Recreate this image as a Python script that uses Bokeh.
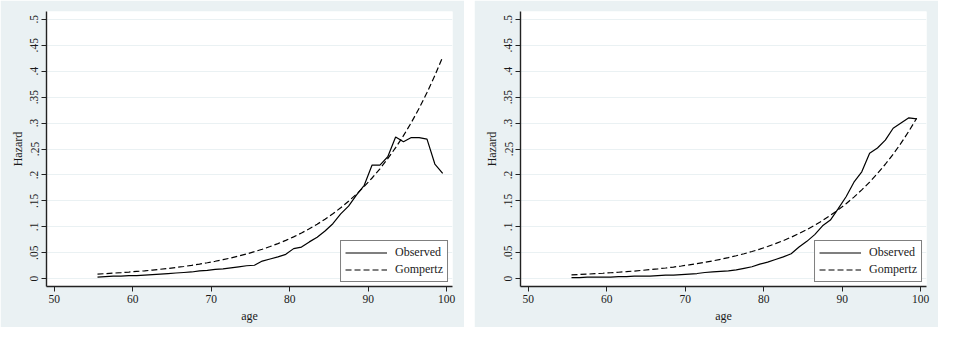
from bokeh.plotting import figure
from bokeh.layouts import row
from bokeh.models import FixedTicker, Legend, LegendItem
from bokeh.embed import file_html
from bokeh.resources import INLINE

# ---- data ----
ages = [55.5, 56.5, 57.5, 58.5, 59.5, 60.5, 61.5, 62.5, 63.5, 64.5,
        65.5, 66.5, 67.5, 68.5, 69.5, 70.5, 71.5, 72.5, 73.5, 74.5,
        75.5, 76.5, 77.5, 78.5, 79.5, 80.5, 81.5, 82.5, 83.5, 84.5,
        85.5, 86.5, 87.5, 88.5, 89.5, 90.5, 91.5, 92.5, 93.5, 94.5,
        95.5, 96.5, 97.5, 98.5, 99.5]

observed_left = [0.003, 0.004, 0.005, 0.005, 0.006, 0.006, 0.007, 0.008, 0.009, 0.010,
                 0.011, 0.012, 0.013, 0.015, 0.016, 0.018, 0.019, 0.021, 0.023, 0.025,
                 0.026, 0.034, 0.038, 0.042, 0.047, 0.058, 0.061, 0.071, 0.080, 0.092,
                 0.106, 0.125, 0.140, 0.161, 0.180, 0.219, 0.219, 0.235, 0.273, 0.264,
                 0.272, 0.272, 0.269, 0.221, 0.203]
gompertz_left = [0.0090, 0.0098, 0.0107, 0.0117, 0.0128, 0.0140, 0.0152, 0.0166, 0.0182, 0.0198,
                 0.0217, 0.0236, 0.0258, 0.0282, 0.0308, 0.0336, 0.0367, 0.0400, 0.0437, 0.0477,
                 0.0521, 0.0568, 0.0620, 0.0677, 0.0739, 0.0807, 0.0881, 0.0962, 0.1050, 0.1147,
                 0.1252, 0.1367, 0.1492, 0.1629, 0.1778, 0.1941, 0.2119, 0.2313, 0.2526, 0.2757,
                 0.3010, 0.3286, 0.3587, 0.3916, 0.4275]

observed_right = [0.002, 0.002, 0.003, 0.003, 0.003, 0.003, 0.004, 0.004, 0.005, 0.005,
                  0.005, 0.006, 0.007, 0.007, 0.008, 0.009, 0.010, 0.012, 0.013, 0.014,
                  0.015, 0.017, 0.020, 0.023, 0.028, 0.032, 0.037, 0.042, 0.048, 0.061,
                  0.072, 0.085, 0.102, 0.113, 0.135, 0.158, 0.186, 0.206, 0.242, 0.252,
                  0.267, 0.290, 0.300, 0.310, 0.308]
gompertz_right = [0.0075, 0.0082, 0.0089, 0.0097, 0.0105, 0.0115, 0.0125, 0.0136, 0.0148, 0.0161,
                  0.0175, 0.0190, 0.0207, 0.0225, 0.0245, 0.0267, 0.0290, 0.0316, 0.0344, 0.0374,
                  0.0407, 0.0443, 0.0482, 0.0524, 0.0570, 0.0621, 0.0676, 0.0735, 0.0800, 0.0871,
                  0.0947, 0.1031, 0.1122, 0.1221, 0.1328, 0.1445, 0.1573, 0.1712, 0.1863, 0.2027,
                  0.2206, 0.2400, 0.2612, 0.2843, 0.3093]

x_ticks = [50, 60, 70, 80, 90, 100]
y_ticks = [0, 0.05, 0.1, 0.15, 0.2, 0.25, 0.3, 0.35, 0.4, 0.45, 0.5]
y_tick_labels = ["0", ".05", ".1", ".15", ".2", ".25", ".3", ".35", ".4", ".45", ".5"]
series_names = ["Observed", "Gompertz"]

BG = "#EAF1F3"
FONT = "Liberation Serif"


def make_panel(obs, gomp):
    p = figure(width=464, height=327, output_backend="svg", toolbar_location=None,
               x_range=(49, 100.75), y_range=(-0.015, 0.515),
               min_border_left=46, min_border_right=12, min_border_top=11,
               min_border_bottom=41)
    p.background_fill_color = "white"
    p.border_fill_color = BG
    p.outline_line_color = None

    r1 = p.line(ages, obs, line_color="black", line_width=1.2)
    r2 = p.line(ages, gomp, line_color="black", line_width=1.2, line_dash="6 3")

    p.xgrid.grid_line_color = None
    p.ygrid.grid_line_color = BG
    p.ygrid.grid_line_width = 1.2

    p.xaxis.ticker = FixedTicker(ticks=x_ticks)
    p.yaxis.ticker = FixedTicker(ticks=y_ticks)
    p.yaxis.major_label_overrides = {t: l for t, l in zip(y_ticks, y_tick_labels)}
    p.yaxis.major_label_orientation = "parallel"

    for ax in (p.xaxis[0], p.yaxis[0]):
        ax.axis_line_color = "#222222"
        ax.axis_line_width = 1.4
        ax.major_tick_line_color = "#222222"
        ax.major_tick_in = 0
        ax.major_tick_out = 5
        ax.minor_tick_line_color = None
        ax.major_label_text_font = FONT
        ax.major_label_text_font_size = "11.5px"
        ax.major_label_text_color = "#1a1a1a"
        ax.axis_label_text_font = FONT
        ax.axis_label_text_font_size = "12px"
        ax.axis_label_text_font_style = "normal"
        ax.axis_label_text_color = "#1a1a1a"
        ax.major_label_standoff = 3
        ax.axis_label_standoff = 3
    p.xaxis.axis_label = "age"
    p.yaxis.axis_label = "Hazard"

    legend = Legend(items=[LegendItem(label=series_names[0], renderers=[r1]),
                           LegendItem(label=series_names[1], renderers=[r2])],
                    location="bottom_right")
    legend.label_text_font = FONT
    legend.label_text_font_size = "12px"
    legend.label_text_color = "#1a1a1a"
    legend.border_line_color = "black"
    legend.border_line_width = 1
    legend.background_fill_color = "white"
    legend.background_fill_alpha = 1
    legend.glyph_width = 42
    legend.glyph_height = 15
    legend.label_standoff = 8
    legend.padding = 4
    legend.spacing = 2
    legend.margin = 4
    legend.label_height = 15
    p.add_layout(legend)
    return p


p1 = make_panel(observed_left, gompertz_left)
p2 = make_panel(observed_right, gompertz_right)
layout = row(p1, p2, spacing=10)

open("out.html", "w").write(file_html(layout, INLINE))
